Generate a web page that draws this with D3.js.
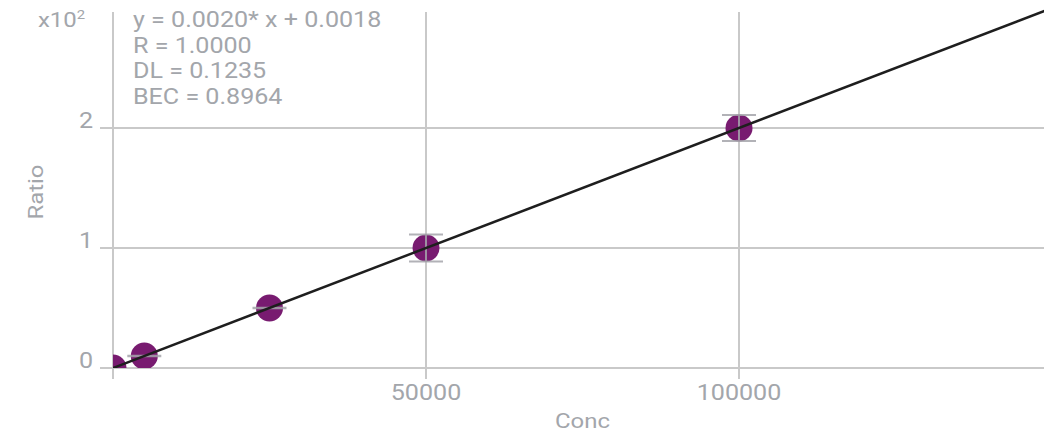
<!DOCTYPE html>
<html>
<head>
<meta charset="utf-8">
<script src="https://cdn.jsdelivr.net/npm/d3@7"></script>
<style>
  html, body { margin: 0; padding: 0; background: #fff; }
  svg { display: block; font-family: Roboto, "Noto Sans", sans-serif; }
</style>
</head>
<body>
<svg id="chart" width="1044" height="433"></svg>
<script>
// Calibration standards: concentration vs. measured ratio, with spread
const conc = [0, 5000, 25000, 50000, 100000];
const ratio = [0, 10, 50, 100, 200];
const ratioErr = [0, 0.3, 0.3, 11.2, 10.8];

// Fitted calibration line: ratio = slope * conc + intercept
const slope = 0.0020;
const intercept = 0.0018;
const fitStats = ["y = 0.0020* x + 0.0018", "R = 1.0000", "DL = 0.1235", "BEC = 0.8964"];

// Axis extents and ticks
const xDomain = [0, 150000];
const yDomain = [0, 296.7];
const xTicks = [50000, 100000];
const yTicks = [0, 100, 200];
const yTickLabels = ["0", "1", "2"];

const W = 1044, H = 433;
const mLeft = 113, mRight = 1052, mTop = 12, mBottom = 368;
const stretch = 1.14; // wide lettering

const svg = d3.select("#chart");
const x = d3.scaleLinear().domain(xDomain).range([mLeft, mRight]);
const y = d3.scaleLinear().domain(yDomain).range([mBottom, mTop]);

const gridColor = "#c9c9c9";
const textColor = "#a3a6ab";

// place a text element at (px, py), widened along its own baseline
const at = (px, py, rot = 0) => `translate(${px},${py}) rotate(${rot}) scale(${stretch},1)`;

// clip region for the data layer
svg.append("defs").append("clipPath").attr("id", "plot-clip")
  .append("rect").attr("x", mLeft).attr("y", mTop - 10)
  .attr("width", mRight - mLeft).attr("height", mBottom - mTop + 10);

// horizontal grid lines (also serve as y ticks)
svg.append("g").selectAll("line").data(yTicks).join("line")
  .attr("x1", mLeft - 13).attr("x2", W)
  .attr("y1", d => y(d)).attr("y2", d => y(d))
  .attr("stroke", gridColor).attr("stroke-width", 2);

// vertical grid lines, extending below the axis as ticks
svg.append("g").selectAll("line").data([0, ...xTicks]).join("line")
  .attr("x1", d => x(d)).attr("x2", d => x(d))
  .attr("y1", mTop).attr("y2", mBottom + 11)
  .attr("stroke", gridColor).attr("stroke-width", 2);

// y tick labels
svg.append("g").selectAll("text").data(yTicks).join("text")
  .attr("transform", d => at(mLeft - 20, y(d)))
  .attr("text-anchor", "end")
  .attr("font-size", 22).attr("fill", textColor)
  .text((d, i) => yTickLabels[i]);

// x tick labels
svg.append("g").selectAll("text").data(xTicks).join("text")
  .attr("transform", d => at(x(d), mBottom + 32))
  .attr("text-anchor", "middle")
  .attr("font-size", 22).attr("fill", textColor)
  .text(d => d3.format("d")(d));

// axis titles
svg.append("text")
  .attr("transform", at((mLeft + W) / 2 + 4, 428))
  .attr("text-anchor", "middle")
  .attr("font-size", 21).attr("fill", textColor)
  .text("Conc");
svg.append("text")
  .attr("transform", at(43, (mTop + mBottom) / 2 + 2, -90))
  .attr("text-anchor", "middle")
  .attr("font-size", 21).attr("fill", textColor)
  .text("Ratio");

// scale multiplier for the y axis
const mult = svg.append("text").attr("transform", at(38, 27))
  .attr("font-size", 21).attr("fill", textColor);
mult.append("tspan").text("x10");
mult.append("tspan").attr("font-size", 13).attr("dy", -8).text("2");

// fit statistics
svg.append("g").selectAll("text").data(fitStats).join("text")
  .attr("transform", (d, i) => at(133, 27 + i * 25.5))
  .attr("font-size", 22).attr("fill", textColor)
  .text(d => d);

const data = conc.map((c, i) => ({ c, r: ratio[i], e: ratioErr[i] }));
const plot = svg.append("g").attr("clip-path", "url(#plot-clip)");

// standards
plot.append("g").selectAll("circle").data(data).join("circle")
  .attr("cx", d => x(d.c)).attr("cy", d => y(d.r))
  .attr("r", 13.5).attr("fill", "#781b70");

// error bars
const eb = plot.append("g")
  .attr("stroke", "rgba(165,165,170,0.85)").attr("stroke-width", 2).attr("fill", "none");
eb.selectAll("path").data(data.filter(d => d.e > 0)).join("path")
  .attr("d", d => {
    const cx = x(d.c), y1 = y(d.r + d.e), y2 = y(d.r - d.e), w = 17;
    return `M${cx - w},${y1}H${cx + w}M${cx},${y1}V${y2}M${cx - w},${y2}H${cx + w}`;
  });

// fitted line
const fitX = [xDomain[0], xDomain[1]];
plot.append("path")
  .datum(fitX)
  .attr("d", d3.line().x(d => x(d)).y(d => y(slope * d + intercept)))
  .attr("stroke", "#1e1e1e").attr("stroke-width", 2.5).attr("fill", "none");
</script>
</body>
</html>
